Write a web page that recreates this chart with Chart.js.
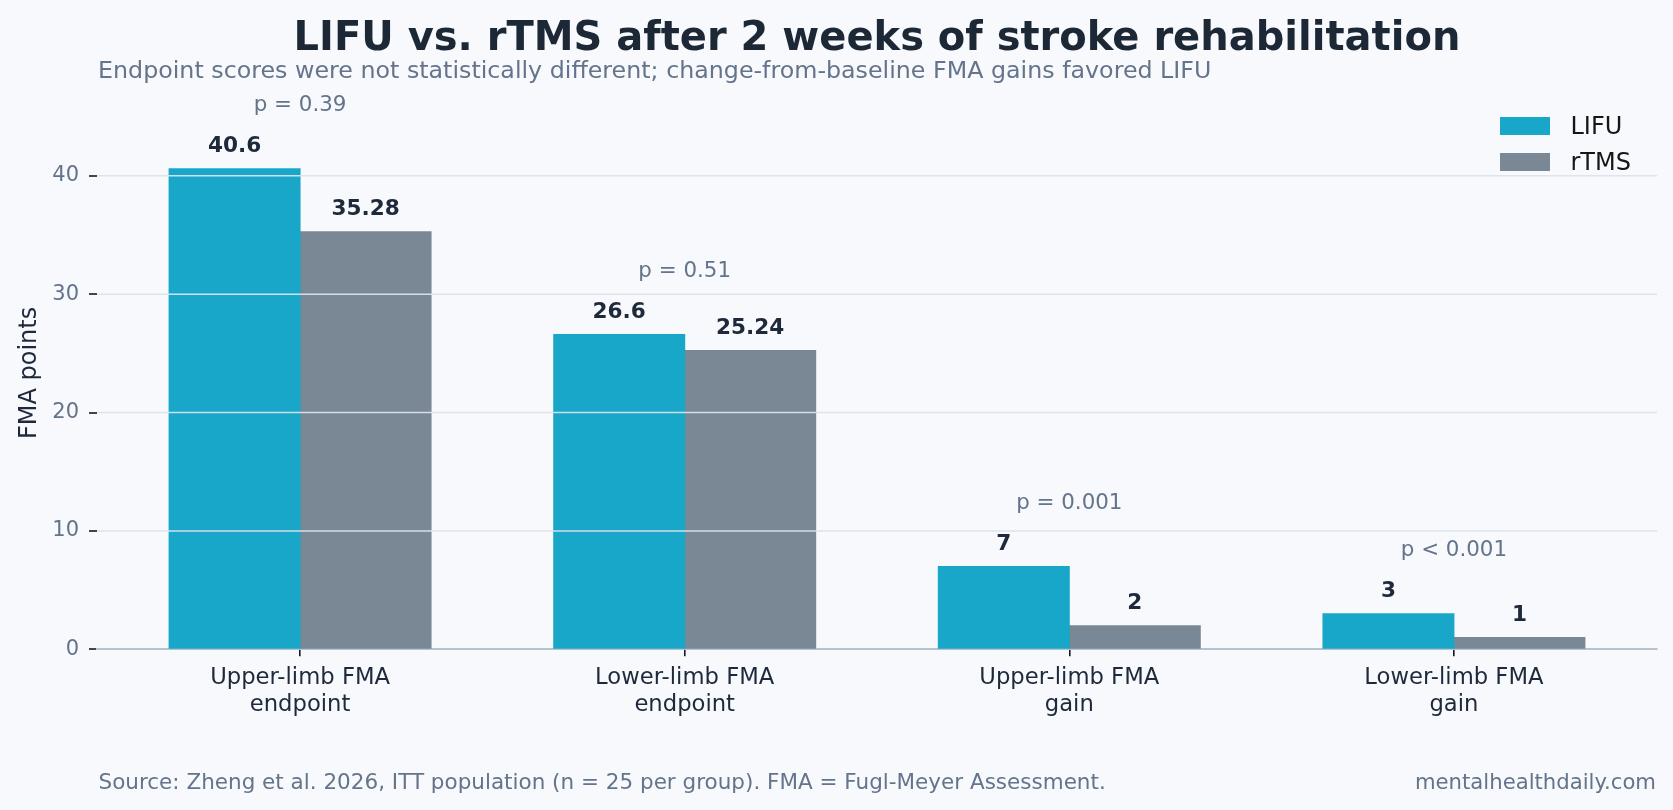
<!DOCTYPE html>
<html>
<head>
<meta charset="utf-8">
<script src="https://cdn.jsdelivr.net/npm/chart.js@4.4.1/dist/chart.umd.min.js"></script>
<style>
  html, body { margin: 0; padding: 0; background: #f7f9fc; }
  #wrap { position: relative; width: 1673px; height: 810px; font-family: "DejaVu Sans", sans-serif; }
  #myChart { position: absolute; left: 0; top: 0; }
  .txt { position: absolute; white-space: nowrap; }
  #title { top: 12.2px; left: 0; width: 1754px; text-align: center; font-size: 40px; line-height: 48px; font-weight: bold; color: #1c2835; }
  #subtitle { top: 55.5px; left: 98px; font-size: 23.75px; line-height: 28px; color: #64748b; }
  #source { top: 769px; left: 98.5px; font-size: 21.5px; line-height: 25px; color: #64748b; }
  #site { top: 769px; right: 17px; font-size: 21.2px; line-height: 25px; color: #64748b; }
  #legend { position: absolute; left: 1500px; top: 111.6px; }
  .leg-item { display: flex; align-items: center; height: 28.8px; margin-bottom: 7.7px; font-size: 24px; line-height: 28.8px; color: #161616; }
  .leg-box { width: 50px; height: 18px; margin-right: 20.5px; }
</style>
</head>
<body>
<div id="wrap">
  <canvas id="myChart" width="1673" height="810"></canvas>
  <div class="txt" id="title">LIFU vs. rTMS after 2 weeks of stroke rehabilitation</div>
  <div class="txt" id="subtitle">Endpoint scores were not statistically different; change-from-baseline FMA gains favored LIFU</div>
  <div id="legend"></div>
  <div class="txt" id="source">Source: Zheng et al. 2026, ITT population (n = 25 per group). FMA = Fugl-Meyer Assessment.</div>
  <div class="txt" id="site">mentalhealthdaily.com</div>
</div>
<script>
// chart data
const categories = [
    ['Upper-limb FMA', 'endpoint'],
    ['Lower-limb FMA', 'endpoint'],
    ['Upper-limb FMA', 'gain'],
    ['Lower-limb FMA', 'gain']
];
const lifuValues = [40.6, 26.6, 7, 3];
const rtmsValues = [35.28, 25.24, 2, 1];
const pLabels = ['p = 0.39', 'p = 0.51', 'p = 0.001', 'p < 0.001'];
const yTicks = [0, 10, 20, 30, 40];

const FONT = '"DejaVu Sans", sans-serif';

// draws gridlines over the bars, value labels and p-values
const overlayPlugin = {
    id: 'overlay',
    afterDatasetsDraw(chart) {
        const ctx = chart.ctx;
        const area = chart.chartArea;
        const y = chart.scales.y;
        const x = chart.scales.x;

        ctx.save();
        ctx.strokeStyle = 'rgba(220, 227, 235, 0.95)';
        ctx.lineWidth = 1.6;
        yTicks.forEach(t => {
            if (t === 0) return;
            const py = y.getPixelForValue(t);
            ctx.beginPath();
            ctx.moveTo(area.left, py);
            ctx.lineTo(area.right, py);
            ctx.stroke();
        });

        ctx.fillStyle = '#1e293b';
        ctx.font = 'bold 21.6px ' + FONT;
        ctx.textAlign = 'center';
        ctx.textBaseline = 'alphabetic';
        chart.data.datasets.forEach((ds, di) => {
            chart.getDatasetMeta(di).data.forEach((bar, i) => {
                ctx.fillText(String(ds.data[i].y), bar.x, bar.y - 16.5);
            });
        });

        ctx.fillStyle = '#64748b';
        ctx.font = '21.4px ' + FONT;
        ctx.textBaseline = 'middle';
        pLabels.forEach((p, i) => {
            const top = Math.max(lifuValues[i], rtmsValues[i]);
            ctx.fillText(p, x.getPixelForValue(i), y.getPixelForValue(top + 5.35));
        });
        ctx.restore();
    }
};

var ctx = document.getElementById('myChart').getContext('2d');

var chart = new Chart(ctx, {
    type: 'bar',
    data: {
        datasets: [{
            label: 'LIFU',
            backgroundColor: '#18a7c8',
            data: lifuValues.map((v, i) => ({x: i, y: v})),
        }, {
            label: 'rTMS',
            backgroundColor: '#7a8794',
            data: rtmsValues.map((v, i) => ({x: i, y: v})),
        }]
    },
    options: {
        responsive: false,
        animation: false,
        devicePixelRatio: 1,
        barPercentage: 1,
        categoryPercentage: 0.6811,
        inflateAmount: 0.5,
        layout: {
            padding: {left: 0, right: 16, top: 96.5, bottom: 60.7}
        },
        plugins: {
            legend: {display: false},
            tooltip: {enabled: false}
        },
        scales: {
            x: {
                type: 'linear',
                offset: false,
                min: -0.528,
                max: 3.528,
                afterBuildTicks: (scale) => {
                    scale.ticks = categories.map((c, i) => ({value: i}));
                },
                afterFit: (scale) => { scale.height = 100; },
                ticks: {
                    callback: (v) => categories[v],
                    autoSkip: false,
                    maxRotation: 0,
                    padding: 8,
                    color: '#1e293b',
                    font: {family: FONT, size: 22.7, lineHeight: 1.2}
                },
                grid: {
                    offset: false,
                    drawOnChartArea: false,
                    drawTicks: true,
                    tickLength: 7,
                    color: '#111827',
                    lineWidth: 1.6
                },
                border: {display: true, color: '#b7c3cf', width: 2}
            },
            y: {
                min: 0,
                max: 46.7,
                afterBuildTicks: (scale) => {
                    scale.ticks = yTicks.map(v => ({value: v}));
                },
                afterFit: (scale) => { scale.width = 97; },
                ticks: {
                    padding: 10,
                    color: '#64748b',
                    font: {family: FONT, size: 21}
                },
                grid: {
                    drawOnChartArea: false,
                    drawTicks: true,
                    tickLength: 8,
                    color: '#3b4656',
                    lineWidth: 2
                },
                border: {display: false},
                title: {
                    display: true,
                    text: 'FMA points',
                    color: '#1e293b',
                    padding: {top: 15.8, bottom: 0},
                    font: {family: FONT, size: 24}
                }
            }
        }
    },
    plugins: [overlayPlugin]
});

// legend built from the datasets
const legendEl = document.getElementById('legend');
chart.data.datasets.forEach(ds => {
    const item = document.createElement('div');
    item.className = 'leg-item';
    item.innerHTML = '<span class="leg-box" style="background:' + ds.backgroundColor + '"></span>' + ds.label;
    legendEl.appendChild(item);
});
</script>
</body>
</html>
